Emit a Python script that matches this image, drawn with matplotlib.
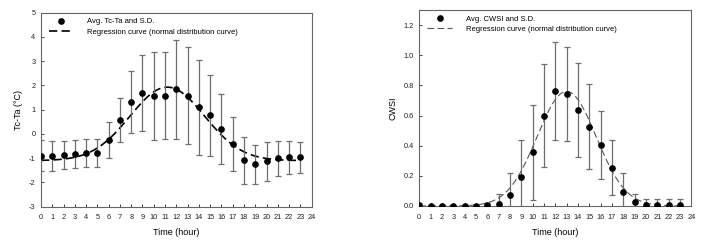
import numpy as np
import matplotlib
matplotlib.use("Agg")
import matplotlib.pyplot as plt
from matplotlib.lines import Line2D
from matplotlib.ticker import FormatStrFormatter

plt.rcParams["font.family"] = ["Liberation Sans", "DejaVu Sans"]
plt.rcParams["axes.unicode_minus"] = False

# -------------------------------------------------
# Data
# -------------------------------------------------
hours = list(range(24))

tcta_mean = [-0.90, -0.90, -0.87, -0.83, -0.80, -0.80, -0.24, 0.57, 1.32, 1.69,
             1.56, 1.57, 1.84, 1.57, 1.10, 0.77, 0.21, -0.43, -1.08, -1.26,
             -1.13, -1.00, -0.97, -0.97]
tcta_sd = [0.63, 0.62, 0.57, 0.56, 0.58, 0.58, 0.74, 0.92, 1.29, 1.55,
           1.80, 1.79, 2.05, 2.00, 1.96, 1.67, 1.43, 1.11, 0.97, 0.82,
           0.81, 0.72, 0.67, 0.65]

cwsi_mean = [0.007, 0.002, 0.002, 0.002, 0.002, 0.002, 0.005, 0.015, 0.07, 0.19,
             0.356, 0.60, 0.76, 0.744, 0.637, 0.527, 0.407, 0.255, 0.095, 0.024,
             0.009, 0.004, 0.004, 0.004]
cwsi_sd = [0.01, 0.006, 0.006, 0.006, 0.006, 0.006, 0.015, 0.065, 0.15, 0.245,
           0.315, 0.34, 0.325, 0.31, 0.31, 0.28, 0.225, 0.18, 0.125, 0.055,
           0.037, 0.04, 0.04, 0.04]

# fitted normal distribution curves: baseline, amplitude, centre, sigma
tcta_fit = (-1.10, 3.03, 11.2, 3.3)
cwsi_fit = (0.0, 0.76, 13.0, 2.6)


def normal_curve(x, y0, a, x0, s):
    return y0 + a * np.exp(-(x - x0) ** 2 / (2 * s ** 2))


x_fit = np.linspace(0, 23, 200)

fig = plt.figure(figsize=(7.09, 2.44), dpi=100)
ax1 = fig.add_axes([0.0578, 0.153, 0.3818, 0.795])
ax2 = fig.add_axes([0.5914, 0.156, 0.3836, 0.803])

err_style = dict(fmt="o", color="black", markersize=3.8, ecolor="#6e6e6e",
                 elinewidth=0.9, capsize=2.2, capthick=0.9, zorder=3)

# =================================================
# Left : Tc-Ta
# =================================================
ax1.errorbar(hours, tcta_mean, yerr=tcta_sd, **err_style)
ax1.plot(x_fit, normal_curve(x_fit, *tcta_fit), color="black", lw=1.2,
         dashes=(5, 2.5))
ax1.set_xlim(0, 24)
ax1.set_ylim(-3, 5)
ax1.set_yticks(range(-3, 6))
ax1.set_ylabel("Tc-Ta (\u00b0C)", fontsize=6.5)

leg1 = [Line2D([], [], marker="o", ls="none", color="black", markersize=3.8),
        Line2D([], [], color="black", lw=1.2, dashes=(5, 2.5))]
labels1 = ["Avg. Tc-Ta and S.D.", "Regression curve (normal distribution curve)"]

# =================================================
# Right : CWSI
# =================================================
ax2.errorbar(hours, cwsi_mean, yerr=cwsi_sd, **err_style)
ax2.plot(x_fit, normal_curve(x_fit, *cwsi_fit), color="#555555", lw=0.8,
         dashes=(6, 3))
ax2.set_xlim(0, 24)
ax2.set_ylim(0, 1.3)
ax2.set_yticks(np.arange(0, 1.21, 0.2))
ax2.yaxis.set_major_formatter(FormatStrFormatter("%.1f"))
ax2.set_ylabel("CWSI", fontsize=6.5)

leg2 = [Line2D([], [], marker="o", ls="none", color="black", markersize=3.8),
        Line2D([], [], color="#555555", lw=0.8, dashes=(6, 3))]
labels2 = ["Avg. CWSI and S.D.", "Regression curve (normal distribution curve)"]

for ax, handles, labels in ((ax1, leg1, labels1), (ax2, leg2, labels2)):
    ax.set_xticks(range(0, 25))
    ax.set_xlabel("Time (hour)", fontsize=6.5, labelpad=5)
    ax.tick_params(direction="in", length=2.5, width=0.6, labelsize=5.3,
                   colors="#222222")
    ax.tick_params(axis="x", pad=5.5)
    ax.tick_params(axis="y", pad=4)
    for sp in ax.spines.values():
        sp.set_color("#666666")
        sp.set_linewidth(0.8)
    ax.legend(handles, labels, loc="upper left", frameon=False, fontsize=5.5,
              handlelength=3.2, handletextpad=1.8, labelspacing=0.4,
              borderaxespad=0.3, bbox_to_anchor=(0.01, 1.0))

fig.savefig("out.png", dpi=100)
